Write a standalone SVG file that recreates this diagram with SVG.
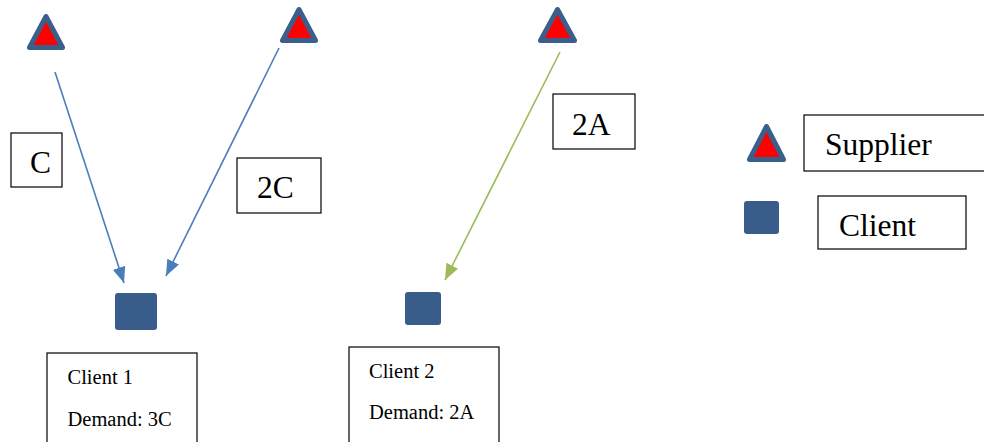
<svg xmlns="http://www.w3.org/2000/svg" width="984" height="442" viewBox="0 0 984 442">
  <style>
    .supplier { fill: #ff0000; stroke: #3a5f8b; stroke-width: 5; stroke-linejoin: round; }
    .client { fill: #385d8a; }
    .box { fill: #ffffff; stroke: #000000; stroke-width: 1.2; }
    .big { font-family: "Liberation Serif", "Times New Roman", serif; font-size: 31.5px; fill: #000; }
    .small { font-family: "Liberation Serif", "Times New Roman", serif; font-size: 20.5px; fill: #000; }
    .blue { stroke: #4a7ebb; stroke-width: 1.6; fill: none; }
    .green { stroke: #9bbb59; stroke-width: 1.6; fill: none; }
  </style>
  <defs>
    <marker id="arrowBlue" markerUnits="userSpaceOnUse" markerWidth="16" markerHeight="13" viewBox="0 0 16 13" refX="16" refY="6.5" orient="auto">
      <path d="M0,0 L16,6.5 L0,13 Z" fill="#4a7ebb"/>
    </marker>
    <marker id="arrowGreen" markerUnits="userSpaceOnUse" markerWidth="16" markerHeight="13" viewBox="0 0 16 13" refX="16" refY="6.5" orient="auto">
      <path d="M0,0 L16,6.5 L0,13 Z" fill="#9bbb59"/>
    </marker>
  </defs>

  <rect width="984" height="442" fill="#ffffff"/>

  <!-- supply links -->
  <g id="connectors">
    <line class="blue" x1="55" y1="72" x2="124" y2="283" marker-end="url(#arrowBlue)"/>
    <line class="blue" x1="279" y1="48" x2="166" y2="276" marker-end="url(#arrowBlue)"/>
    <line class="green" x1="560" y1="52" x2="445" y2="280" marker-end="url(#arrowGreen)"/>
  </g>

  <!-- suppliers -->
  <g id="supplier1">
    <polygon class="supplier" points="46,16.5 29.5,47.5 62.5,47.5"/>
  </g>
  <g id="supplier2">
    <polygon class="supplier" points="299,9.5 282.5,40.5 315.5,40.5"/>
  </g>
  <g id="supplier3">
    <polygon class="supplier" points="557.5,9.5 540.5,40.5 574.5,40.5"/>
  </g>

  <!-- link labels -->
  <g id="labelC">
    <rect class="box" x="11" y="133" width="51" height="54"/>
    <text class="big" x="30" y="173">C</text>
  </g>
  <g id="label2C">
    <rect class="box" x="237" y="158" width="84" height="55"/>
    <text class="big" x="257" y="198">2C</text>
  </g>
  <g id="label2A">
    <rect class="box" x="553" y="94" width="82" height="55"/>
    <text class="big" x="572" y="135">2A</text>
  </g>

  <!-- clients -->
  <g id="client1">
    <rect class="client" x="115" y="293" width="42" height="37" rx="3"/>
    <rect class="box" x="47" y="353" width="150" height="100"/>
    <text class="small" x="67.5" y="383.5">Client 1</text>
    <text class="small" x="67.5" y="425.5">Demand: 3C</text>
  </g>
  <g id="client2">
    <rect class="client" x="405" y="292" width="36" height="33" rx="3"/>
    <rect class="box" x="349" y="347" width="150" height="100"/>
    <text class="small" x="369" y="378">Client 2</text>
    <text class="small" x="369" y="418.5">Demand: 2A</text>
  </g>

  <!-- legend -->
  <g id="legendSupplier">
    <polygon class="supplier" points="766.5,126.5 749.5,159.5 783.5,159.5"/>
    <rect class="box" x="804" y="115" width="190" height="56"/>
    <text class="big" x="825" y="155">Supplier</text>
  </g>
  <g id="legendClient">
    <rect class="client" x="744" y="201" width="35" height="33" rx="3"/>
    <rect class="box" x="818" y="196" width="148" height="53"/>
    <text class="big" x="839" y="236">Client</text>
  </g>
</svg>
